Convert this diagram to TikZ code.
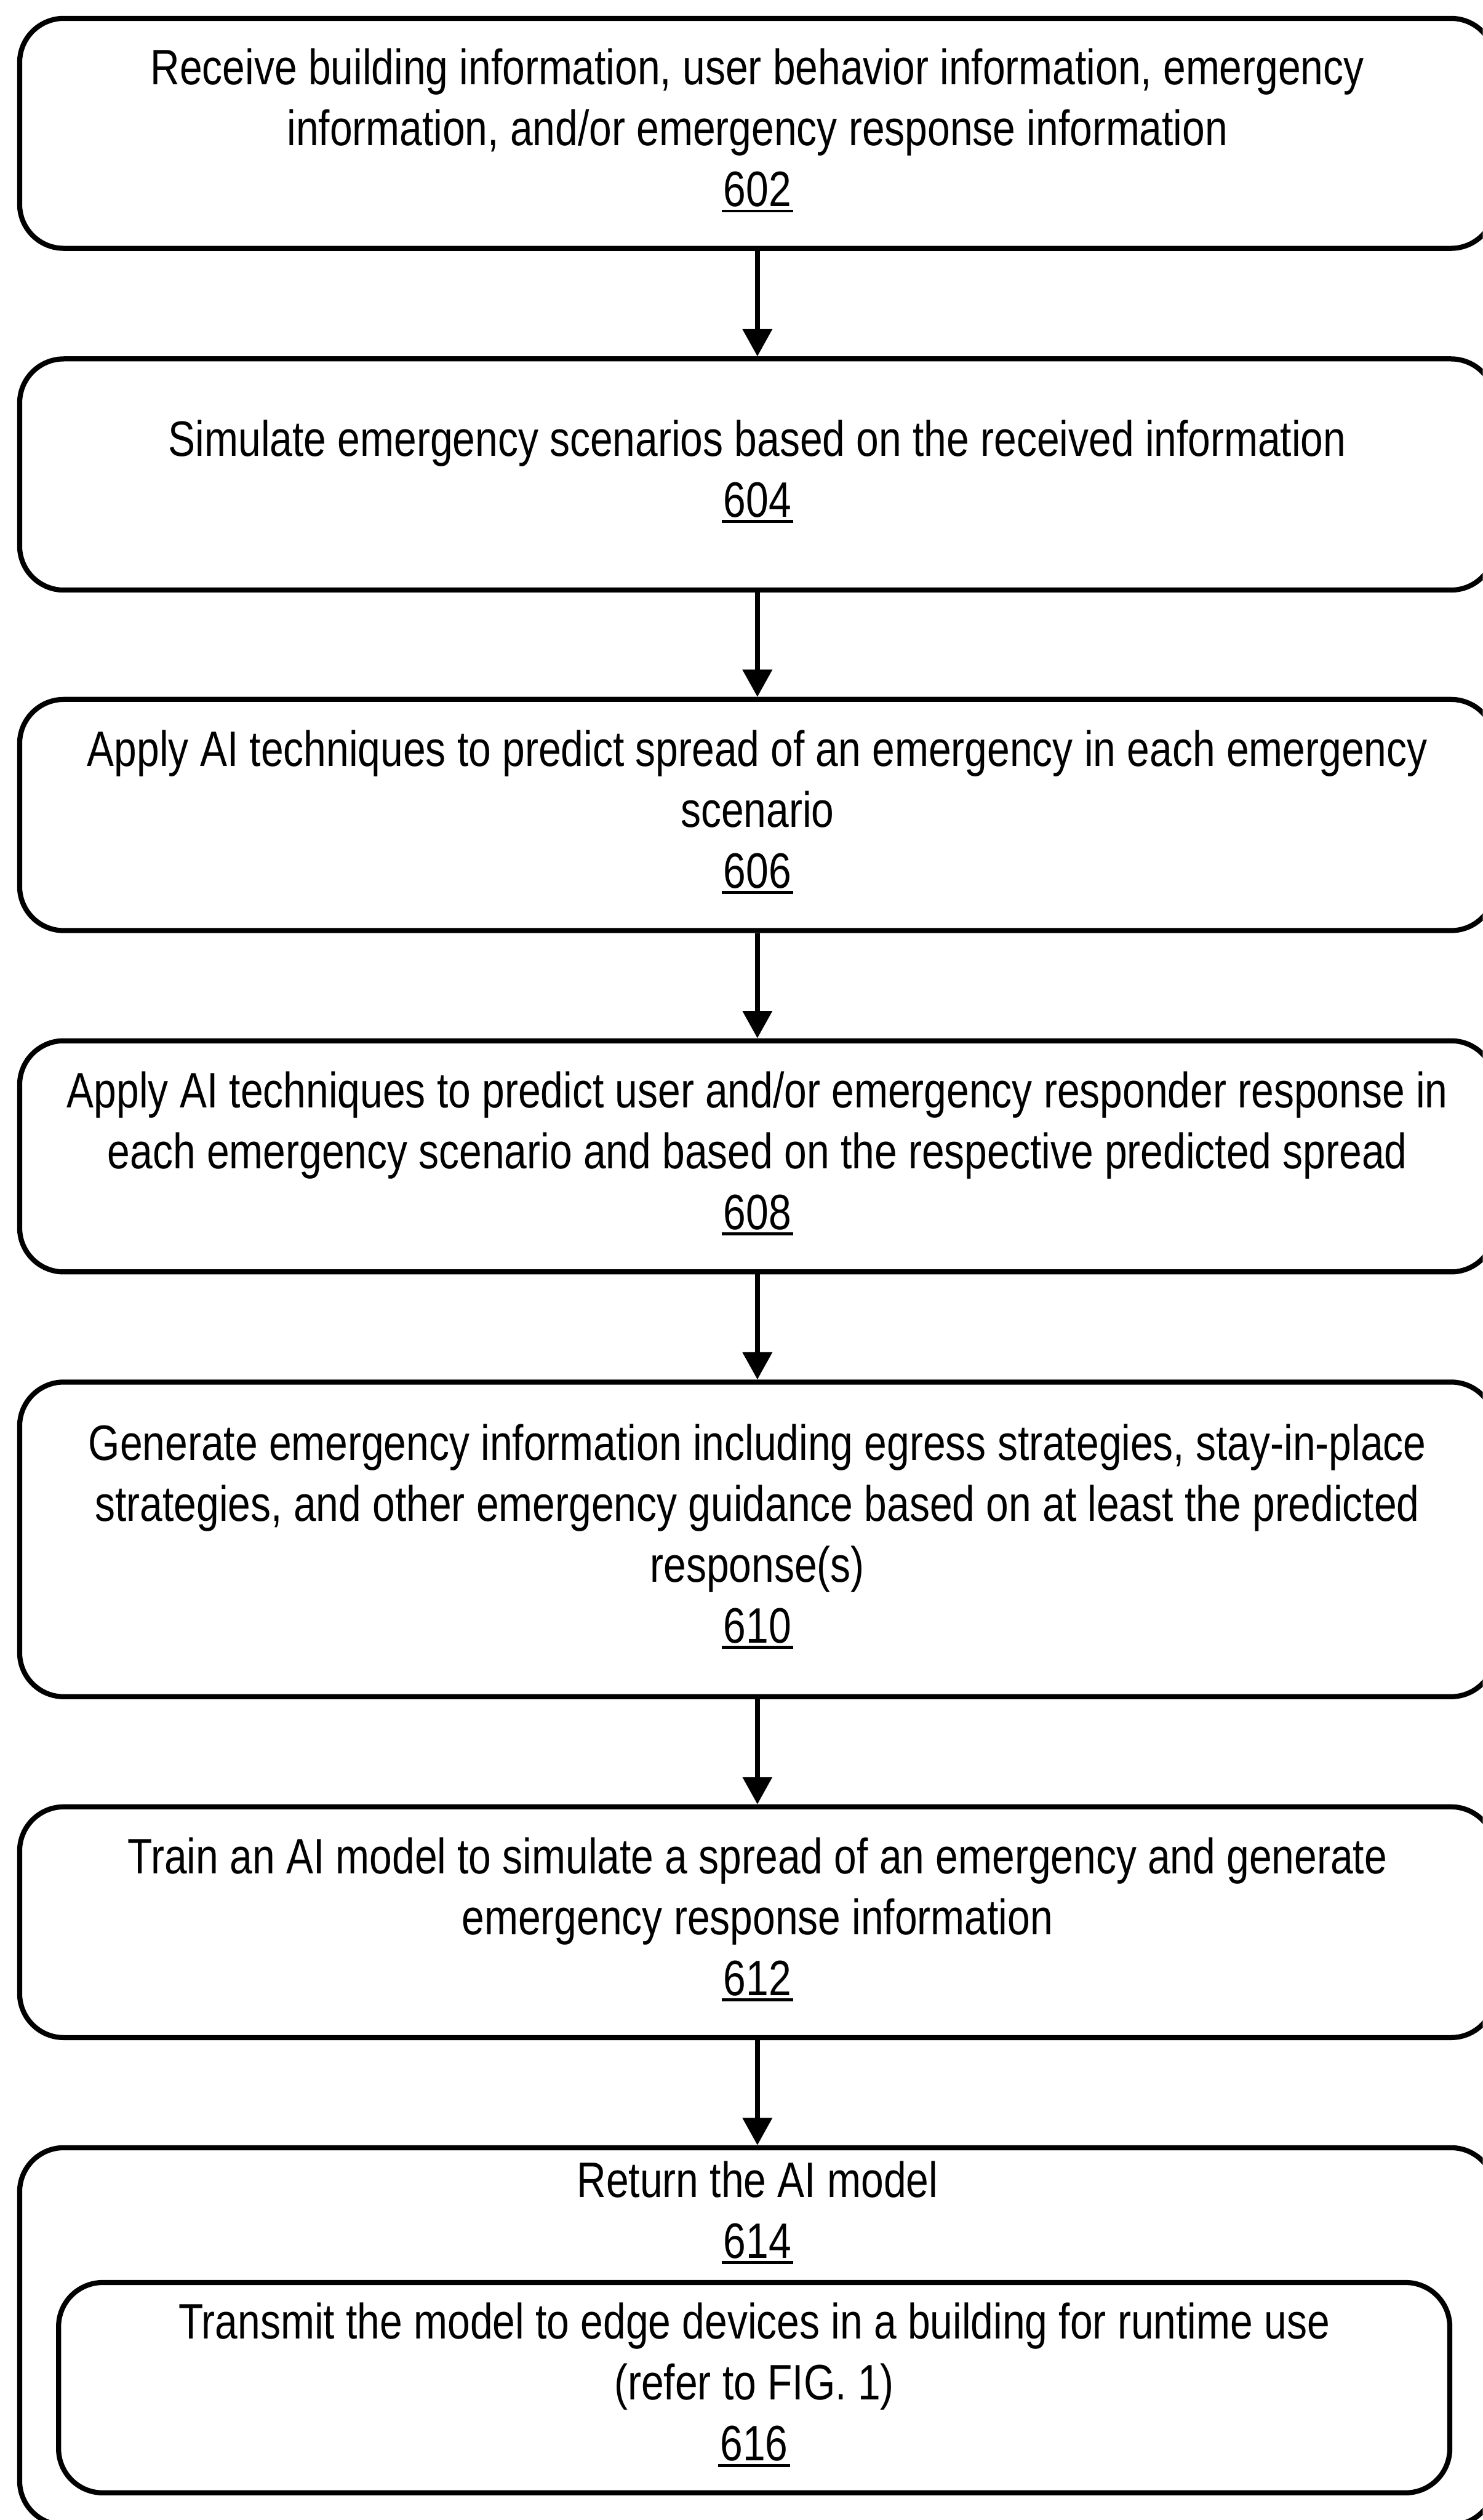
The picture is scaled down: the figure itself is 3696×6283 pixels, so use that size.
\documentclass[tikz,border=0pt]{standalone}
\usepackage{fontspec}
\setmainfont{Liberation Sans}[FakeStretch=0.815]
\usetikzlibrary{arrows.meta}
% step reference number with a solid rule underneath
\newcommand{\stepnum}[1]{\setbox0\hbox{#1}%
  \rlap{\hspace{-0.05cm}\rule[-0.15cm]{\dimexpr\wd0+0.1cm\relax}{0.075cm}}\box0}
\begin{document}
\begin{tikzpicture}[x=0.01cm,y=-0.01cm,
  txtfont/.style={font=\fontsize{35.3}{43.2}\selectfont},
  stepbox/.style={draw, line width=3.6pt, rounded corners=1.1cm,
    minimum width=36.76cm, align=center, inner sep=0pt, txtfont},
  lbl/.style={align=center, inner sep=0pt, txtfont},
  flow/.style={line width=3.2pt, -{Triangle[width=0.72cm,length=0.68cm]}}]
\useasboundingbox (0,0) rectangle (3696,6283);
\fill[white] (0,0) rectangle (3696,6283);
\clip (0,0) rectangle (3696,6283);

% process steps
\node[stepbox, minimum height=5.73cm] (b602) at (1888,332.5)
  {\strut Receive building information, user behavior information, emergency\\
   information, and/or emergency response information\\
   \stepnum{602}\strut};
\node[stepbox, minimum height=5.76cm] (b604) at (1888,1183)
  {\strut Simulate emergency scenarios based on the received information\\
   \stepnum{604}\strut};
\node[stepbox, minimum height=5.76cm] (b606) at (1888,2032)
  {\strut Apply AI techniques to predict spread of an emergency in each emergency\\
   scenario\\
   \stepnum{606}\strut};
\node[stepbox, minimum height=5.76cm] (b608) at (1888,2883)
  {\strut Apply AI techniques to predict user and/or emergency responder response in\\
   each emergency scenario and based on the respective predicted spread\\
   \stepnum{608}\strut};
\node[stepbox, minimum height=7.84cm] (b610) at (1888,3838)
  {\strut Generate emergency information including egress strategies, stay-in-place\\
   strategies, and other emergency guidance based on at least the predicted\\
   response(s)\\
   \stepnum{610}\strut};
\node[stepbox, minimum height=5.75cm] (b612) at (1888,4792.5)
  {\strut Train an AI model to simulate a spread of an emergency and generate\\
   emergency response information\\
   \stepnum{612}\strut};

% final step with nested sub-step
\node[stepbox, minimum height=9.40cm] (b614) at (1888,5825) {};
\node[lbl] (t614) at (1888,5524)
  {\strut Return the AI model\\ \stepnum{614}\strut};
\node[stepbox, minimum width=34.66cm, minimum height=5.24cm] (b616) at (1880,5953)
  {\strut Transmit the model to edge devices in a building for runtime use\\
   (refer to FIG. 1)\\
   \stepnum{616}\strut};

% connectors
\draw[flow] (b602.south) -- (b604.north);
\draw[flow] (b604.south) -- (b606.north);
\draw[flow] (b606.south) -- (b608.north);
\draw[flow] (b608.south) -- (b610.north);
\draw[flow] (b610.south) -- (b612.north);
\draw[flow] (b612.south) -- (b614.north);
\end{tikzpicture}
\end{document}
